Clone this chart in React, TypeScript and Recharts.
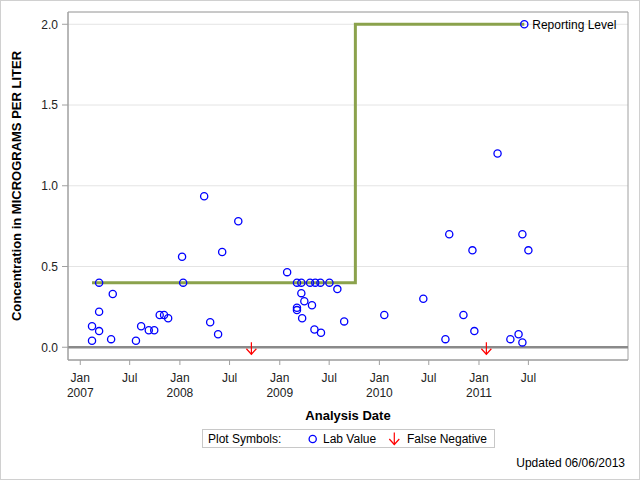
import {
  ComposedChart,
  Scatter,
  Line,
  XAxis,
  YAxis,
  CartesianGrid,
  ReferenceLine,
  ReferenceArea,
  ReferenceDot,
} from "recharts";

const labDates = [
  "2007-02-13", "2007-02-13", "2007-03-11", "2007-03-11", "2007-03-11",
  "2007-04-30", "2007-04-24", "2007-07-24", "2007-08-12", "2007-09-09",
  "2007-09-29", "2007-10-19", "2007-11-04", "2007-11-19", "2008-01-09",
  "2008-01-13", "2008-03-30", "2008-04-21", "2008-05-20", "2008-06-04",
  "2008-08-02", "2009-01-28", "2009-03-05", "2009-03-21", "2009-04-22",
  "2009-05-11", "2009-05-30", "2009-07-02", "2009-07-31", "2009-03-21",
  "2009-04-01", "2009-04-29", "2009-03-05", "2009-03-05", "2009-03-24",
  "2009-05-08", "2009-06-01", "2009-08-25", "2010-01-19", "2010-06-11",
  "2010-08-31", "2010-09-14", "2010-11-05", "2010-12-08", "2010-12-15",
  "2011-03-10", "2011-04-26", "2011-05-26", "2011-06-09", "2011-06-09",
  "2011-06-16", "2011-07-01",
];
const labValues = [
  0.13, 0.04, 0.4, 0.22, 0.1,
  0.33, 0.05, 0.04, 0.13, 0.105,
  0.105, 0.2, 0.2, 0.18, 0.56,
  0.4, 0.935, 0.155, 0.08, 0.59,
  0.78, 0.465, 0.4, 0.4, 0.4,
  0.4, 0.4, 0.4, 0.36, 0.335,
  0.285, 0.26, 0.245, 0.23, 0.18,
  0.11, 0.09, 0.16, 0.2, 0.3,
  0.05, 0.7, 0.2, 0.6, 0.1,
  1.2, 0.05, 0.08, 0.03, 0.7,
  2.0, 0.6,
];

const falseNegDates = ["2008-09-19", "2011-01-28"];

const reportingDates = ["2007-02-13", "2009-10-05", "2011-06-16"];
const reportingLevels = [0.4, 2.0, 2.0];

const xTickDates = [
  "2007-01-01", "2007-07-01", "2008-01-01", "2008-07-01", "2009-01-01",
  "2009-07-01", "2010-01-01", "2010-07-01", "2011-01-01", "2011-07-01",
];
const xTickMonths = ["Jan", "Jul", "Jan", "Jul", "Jan", "Jul", "Jan", "Jul", "Jan", "Jul"];
const xTickYears = ["2007", "", "2008", "", "2009", "", "2010", "", "2011", ""];
const yTicks = [0, 0.5, 1, 1.5, 2];

const xDomain = [Date.parse("2006-11-17"), Date.parse("2012-06-30")];
const yDomain = [-0.079, 2.076];

const labData = labDates.map((d, i) => ({ t: Date.parse(d), v: labValues[i] }));
const falseNegData = falseNegDates.map((d) => ({ t: Date.parse(d), v: 0 }));
const reportingData = reportingDates.map((d, i) => ({
  t: Date.parse(d),
  v: reportingLevels[i],
}));
const xTicks = xTickDates.map((d) => Date.parse(d));

const FONT = "'Liberation Sans', Arial, sans-serif";

function DateTick(props: any) {
  const { x, y, payload } = props;
  const i = xTicks.indexOf(payload.value);
  return (
    <text x={x} y={y + 17} textAnchor="middle" fontSize={12} fill="#222" fontFamily={FONT}>
      <tspan x={x}>{xTickMonths[i]}</tspan>
      <tspan x={x} dy={15}>
        {xTickYears[i]}
      </tspan>
    </text>
  );
}

function LabCircle(props: any) {
  const { cx, cy } = props;
  return <circle cx={cx} cy={cy} r={3.6} fill="none" stroke="#0000ff" strokeWidth={1.3} />;
}

function DownArrow(props: any) {
  const { cx, cy } = props;
  return (
    <g stroke="#ff0000" strokeWidth={1.2} fill="none">
      <line x1={cx} y1={cy - 5} x2={cx} y2={cy + 7} />
      <polyline points={`${cx - 5},${cy + 1.5} ${cx},${cy + 7} ${cx + 5},${cy + 1.5}`} />
    </g>
  );
}

export default function App() {
  return (
    <div
      style={{
        position: "absolute",
        left: 0,
        top: 0,
        width: 640,
        height: 480,
        background: "#fff",
        fontFamily: FONT,
      }}
    >
      <ComposedChart
        width={640}
        height={480}
        margin={{ top: 12, right: 12, left: 10, bottom: 70 }}
      >
        <CartesianGrid vertical={false} stroke="#e4e4e4" />
        <XAxis
          type="number"
          dataKey="t"
          domain={xDomain}
          allowDataOverflow
          ticks={xTicks}
          interval={0}
          height={50}
          stroke="#a0a0a0"
          tickSize={5}
          tickMargin={0}
          tick={<DateTick />}
        />
        <YAxis
          type="number"
          dataKey="v"
          domain={yDomain}
          allowDataOverflow
          ticks={yTicks}
          interval={0}
          width={58}
          stroke="#a0a0a0"
          tickSize={6}
          tickMargin={4}
          tick={{ fill: "#222", fontSize: 12, fontFamily: FONT }}
          tickFormatter={(v: number) => v.toFixed(1)}
        />
        <ReferenceArea
          x1={xDomain[0]}
          x2={xDomain[1]}
          y1={yDomain[0]}
          y2={yDomain[1]}
          fill="none"
          stroke="#a0a0a0"
          ifOverflow="visible"
        />
        <ReferenceLine y={0} stroke="#8a8a8a" strokeWidth={2.5} />
        <Line
          data={reportingData}
          dataKey="v"
          type="stepAfter"
          stroke="#8ba24c"
          strokeWidth={3}
          dot={false}
          isAnimationActive={false}
        />
        <Scatter data={labData} shape={<LabCircle />} isAnimationActive={false} />
        <Scatter data={falseNegData} shape={<DownArrow />} isAnimationActive={false} />
        <ReferenceDot
          x={reportingData[reportingData.length - 1].t}
          y={reportingData[reportingData.length - 1].v}
          r={4}
          fill="none"
          stroke="none"
          label={{
            value: "Reporting Level",
            position: "right",
            offset: 4,
            fill: "#000",
            fontSize: 12,
            fontFamily: FONT,
          }}
        />
      </ComposedChart>

      <svg
        width={640}
        height={480}
        style={{ position: "absolute", left: 0, top: 0, pointerEvents: "none" }}
        fontFamily={FONT}
      >
        <rect x={0.5} y={0.5} width={639} height={479} fill="none" stroke="#d0d0d0" />
        <text
          x={21}
          y={186}
          transform="rotate(-90 21 186)"
          textAnchor="middle"
          fontSize={13}
          fontWeight="bold"
          fill="#000"
        >
          Concentration in MICROGRAMS PER LITER
        </text>
        <text x={348} y={419.5} textAnchor="middle" fontSize={13} fontWeight="bold" fill="#000">
          Analysis Date
        </text>
        <rect x={202.5} y={429.5} width={292} height={18} fill="#fff" stroke="#c8c8c8" />
        <text x={208} y={443.3} fontSize={12} fill="#000">
          Plot Symbols:
        </text>
        <circle cx={312.7} cy={439} r={3.6} fill="none" stroke="#0000ff" strokeWidth={1.3} />
        <text x={323} y={443.3} fontSize={12} fill="#000">
          Lab Value
        </text>
        <g stroke="#ff0000" strokeWidth={1.2} fill="none">
          <line x1={394.3} y1={432.5} x2={394.3} y2={444.5} />
          <polyline points="389.3,439 394.3,444.5 399.3,439" />
        </g>
        <text x={407} y={443.3} fontSize={12} fill="#000">
          False Negative
        </text>
        <text x={625} y={467} textAnchor="end" fontSize={12} fill="#000">
          Updated 06/06/2013
        </text>
      </svg>
    </div>
  );
}
